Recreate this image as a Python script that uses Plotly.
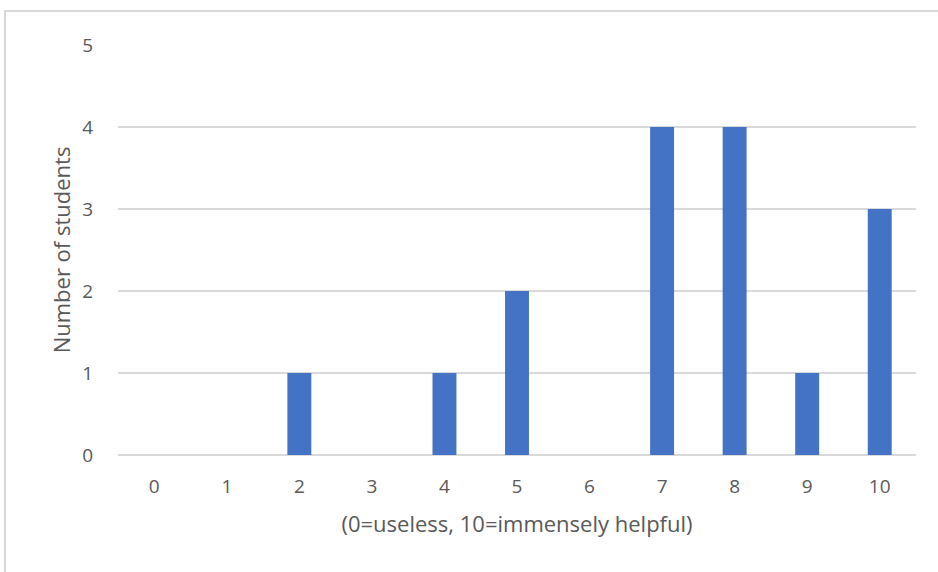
import plotly.graph_objects as go

categories = [0, 1, 2, 3, 4, 5, 6, 7, 8, 9, 10]
counts = [0, 0, 1, 0, 1, 2, 0, 4, 4, 1, 3]
y_ticks = [0, 1, 2, 3, 4, 5]

L, R, T, B = 118, 22, 45, 117
W, H = 938, 572
pw, ph = W - L - R, H - T - B

def px_x(x):
    return (x - L) / pw

def px_y(y):
    return (H - B - y) / ph

fig = go.Figure()
fig.add_trace(go.Bar(
    x=[str(c) for c in categories], y=counts,
    marker=dict(color="#4472C4", line=dict(width=0)),
    width=0.33,
))

fig.add_shape(type="rect", xref="paper", yref="paper",
              x0=px_x(5), x1=px_x(960), y0=px_y(11), y1=px_y(600),
              line=dict(color="#d9d9d9", width=2), layer="below")

FONT = "Open Sans"
fig.update_layout(
    width=W, height=H,
    margin=dict(l=L, r=R, t=T, b=B),
    plot_bgcolor="white", paper_bgcolor="white",
    showlegend=False,
    font=dict(family=FONT, color="#595959", size=19),
)
fig.update_xaxes(
    type="category", showgrid=False, zeroline=False, showline=False,
    ticks="outside", ticklen=14, tickcolor="white",
    tickfont=dict(size=19, color="#595959"),
    title=dict(text="(0=useless, 10=immensely helpful)", font=dict(size=22, color="#595959"), standoff=18),
)
fig.update_yaxes(
    range=[0, 5], tickvals=y_ticks, showgrid=True, gridcolor="#d9d9d9", gridwidth=2,
    zeroline=True, zerolinecolor="#d9d9d9", zerolinewidth=2, showline=False,
    ticks="outside", ticklen=20, tickcolor="white",
    tickfont=dict(size=19, color="#595959"),
    title=dict(text="Number of students", font=dict(size=22, color="#595959"), standoff=5),
)

fig.write_html("out.html", config={"displayModeBar": False},
               post_script="document.body.style.margin='0px';")
